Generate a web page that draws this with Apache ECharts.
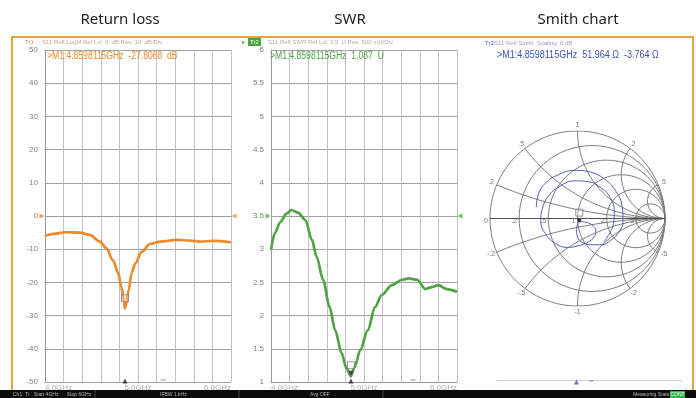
<!DOCTYPE html>
<html>
<head>
<meta charset="utf-8">
<script src="https://cdn.jsdelivr.net/npm/echarts@6/dist/echarts.min.js"></script>
<style>
html,body{margin:0;padding:0;background:#fff}
#chart{width:696px;height:398px}
</style>
</head>
<body>
<div id="chart"></div>
<script>
// S11 sweep, 4–6 GHz: return loss, SWR and Smith chart views

// Return loss trace (GHz, dB)
const rlFreq = [4.00, 4.09, 4.215, 4.38, 4.48, 4.59, 4.66, 4.73, 4.79, 4.82, 4.85, 4.8598115, 4.87, 4.90, 4.93, 4.97, 5.04, 5.13, 5.24, 5.42, 5.56, 5.67, 5.81, 6.00];
const rlDb   = [-6.0, -5.4, -4.9, -5.0, -5.7, -7.7, -9.7, -13.3, -17.3, -21.3, -25.8, -27.8068, -26.8, -22.3, -17.3, -14.3, -10.8, -8.4, -7.7, -7.2, -7.4, -7.7, -7.5, -7.9];

// SWR trace (GHz, ratio)
const swrFreq = [4.00, 4.04, 4.10, 4.17, 4.22, 4.29, 4.37, 4.44, 4.49, 4.56, 4.63, 4.69, 4.76, 4.81, 4.8598115, 4.90, 4.96, 5.04, 5.12, 5.19, 5.30, 5.41, 5.48, 5.57, 5.66, 5.73, 5.80, 5.89, 6.00];
const swrVal  = [2.99, 3.24, 3.41, 3.54, 3.59, 3.55, 3.44, 3.14, 2.89, 2.54, 2.13, 1.78, 1.43, 1.21, 1.087, 1.23, 1.48, 1.78, 2.13, 2.31, 2.46, 2.54, 2.56, 2.54, 2.40, 2.43, 2.46, 2.40, 2.36];

// Reflection coefficient trace for the Smith chart (real, imaginary)
const smithRe = [-0.47, -0.45, -0.37, -0.22, -0.03, 0.15, 0.31, 0.44, 0.51, 0.52, 0.47, 0.38, 0.27, 0.15, 0.05, 0.00, -0.01, 0.00, 0.02, 0.08, 0.16, 0.21, 0.19, 0.12, 0.02, -0.12, -0.26, -0.37, -0.42, -0.40, -0.33, -0.20, -0.04, 0.13, 0.27, 0.38, 0.42, 0.41, 0.36, 0.30];
const smithIm = [0.13, 0.27, 0.40, 0.50, 0.55, 0.53, 0.45, 0.31, 0.14, -0.03, -0.16, -0.25, -0.30, -0.30, -0.27, -0.21, -0.13, -0.07, -0.036, -0.04, -0.07, -0.14, -0.21, -0.27, -0.31, -0.33, -0.28, -0.17, -0.03, 0.12, 0.26, 0.37, 0.43, 0.42, 0.35, 0.23, 0.08, -0.06, -0.18, -0.27];

// Marker 1 readings
const markerFreq = 4.8598115;
const markerRl = -27.8068;
const markerSwr = 1.087;
const markerR = 51.964;
const markerX = -3.764;
const z0 = 50;

// Axis ticks and Smith grid values
const freqMin = 4, freqMax = 6, freqStep = 0.2;
const rlMin = -50, rlMax = 50, rlStep = 10;
const swrMin = 1, swrMax = 6, swrStep = 0.5;
const smithR = [0.2, 0.5, 1, 2, 5];
const smithRLabels = ['.2', '.5', '1', '2', '5'];
const smithX = [0.2, 0.5, 1, 2, 5];
const smithXLabels = ['.2', '.5', '1', '2', '5'];

const orange = '#ee8a2c', green = '#4fa444', blue = '#3d4fb5', gold = '#e1a53c';
const narrow = '"Liberation Sans", Arial, sans-serif';

// marker reflection coefficient from the stated impedance
const zr = markerR / z0, zi = markerX / z0;
const den = (zr + 1) * (zr + 1) + zi * zi;
const mRe = ((zr - 1) * (zr + 1) + zi * zi) / den;
const mIm = (zi * (zr + 1) - (zr - 1) * zi) / den;

function zip(a, b) { return a.map((v, i) => [v, b[i]]); }

function freqLabel(v) {
  const r = Math.round(v);
  return Math.abs(v - r) < 1e-6 ? r.toFixed(1) + 'GHz' : '';
}

function freqAxis(gi) {
  return {
    type: 'value', gridIndex: gi, min: freqMin, max: freqMax, interval: freqStep,
    axisLine: { show: true, lineStyle: { color: '#9a9a9a', width: 1 } },
    axisTick: { show: false },
    splitLine: { show: true, lineStyle: { color: '#c2c2c2', width: 1 } },
    axisLabel: {
      formatter: freqLabel, color: '#b0b0b0', fontSize: 8, margin: 2,
      fontFamily: narrow, alignMinLabel: 'left', alignMaxLabel: 'right'
    }
  };
}

function levelAxis(gi, mn, mx, step) {
  return {
    type: 'value', gridIndex: gi, min: mn, max: mx, interval: step,
    axisLine: { show: true, lineStyle: { color: '#9a9a9a', width: 1 } },
    axisTick: { show: false },
    splitLine: { show: true, lineStyle: { color: '#a0a0a0', width: 1 } },
    axisLabel: { color: '#808080', fontSize: 8, margin: 7, fontFamily: narrow }
  };
}

// Smith chart grid: constant resistance circles and constant reactance arcs
const gridSeries = [];
function gridLine(pts, color, width) {
  gridSeries.push({
    type: 'line', xAxisIndex: 2, yAxisIndex: 2, data: pts, showSymbol: false,
    silent: true, lineStyle: { color: color, width: width }, z: 1
  });
}
function circle(cx, cy, rad) {
  const pts = [];
  for (let i = 0; i <= 180; i++) {
    const a = i / 180 * Math.PI * 2;
    pts.push([cx + rad * Math.cos(a), cy + rad * Math.sin(a)]);
  }
  return pts;
}
function gammaOf(r, x) {
  const d = (r + 1) * (r + 1) + x * x;
  return [((r - 1) * (r + 1) + x * x) / d, 2 * x / d];
}
gridLine(circle(0, 0, 1), '#7a7a7a', 1);
smithR.forEach(r => gridLine(circle(r / (1 + r), 0, 1 / (1 + r)), '#7a7a7a', 1));
smithX.forEach(x => {
  [x, -x].forEach(xx => {
    const pts = [];
    for (let i = 0; i < 120; i++) {
      const r = Math.tan(i / 120 * Math.PI / 2);
      pts.push(gammaOf(r, xx));
    }
    pts.push([1, 0]);
    gridLine(pts, '#7a7a7a', 1);
  });
});
gridLine([[-1, 0], [1, 0]], '#505050', 1);

const smithLabelData = [{ name: '0', value: [-1, 0] }].concat(
  smithR.map((r, i) => ({ name: smithRLabels[i], value: [(r - 1) / (r + 1), 0] }))
);
const smithXLabelData = [];
smithX.forEach((x, i) => {
  [1, -1].forEach(s => {
    const g = gammaOf(0, s * x);
    smithXLabelData.push({ name: (s < 0 ? '-' : '') + smithXLabels[i], value: [g[0] * 1.07, g[1] * 1.07] });
  });
});

function readout(x, y, text, color, sx) {
  return { type: 'text', x: x, y: y, scaleX: sx, style: { text: text, fill: color, font: '10px ' + narrow, textVerticalAlign: 'middle' }, z: 10 };
}

const option = {
  animation: false,
  backgroundColor: '#ffffff',
  grid: [
    { left: 45, top: 50, width: 186, height: 332 },
    { left: 271, top: 50, width: 186, height: 332 },
    { left: 490, top: 131, width: 175, height: 175 },
    { left: 497, top: 370, width: 185, height: 10 }
  ],
  xAxis: [
    freqAxis(0),
    freqAxis(1),
    { type: 'value', gridIndex: 2, min: -1, max: 1, show: false },
    {
      type: 'value', gridIndex: 3, min: freqMin, max: freqMax,
      axisLine: { show: true, lineStyle: { color: '#d2d2d2', width: 1 } },
      axisTick: { show: false }, axisLabel: { show: false }, splitLine: { show: false }
    }
  ],
  yAxis: [
    levelAxis(0, rlMin, rlMax, rlStep),
    levelAxis(1, swrMin, swrMax, swrStep),
    { type: 'value', gridIndex: 2, min: -1, max: 1, show: false },
    { type: 'value', gridIndex: 3, min: 0, max: 1, show: false }
  ],
  series: [
    // return loss
    {
      type: 'line', xAxisIndex: 0, yAxisIndex: 0, data: zip(rlFreq, rlDb),
      showSymbol: false, smooth: 0.3, smoothMonotone: 'x',
      lineStyle: { color: orange, width: 2.7 }, z: 3
    },
    {
      type: 'scatter', xAxisIndex: 0, yAxisIndex: 0, clip: false, silent: true,
      data: [
        { value: [freqMin, 0], symbolRotate: -90, symbolOffset: [-3, 0] },
        { value: [freqMax, 0], symbolRotate: 90, symbolOffset: [3, 0] }
      ],
      symbol: 'triangle', symbolSize: 5, itemStyle: { color: orange }
    },
    {
      type: 'scatter', xAxisIndex: 0, yAxisIndex: 0, clip: false, silent: true,
      data: [[markerFreq, markerRl]], symbol: 'rect', symbolSize: 7, symbolOffset: [0, -10],
      itemStyle: { color: 'rgba(255,255,255,0.35)', borderColor: '#7a7a7a', borderWidth: 1 }, z: 4
    },
    {
      type: 'scatter', xAxisIndex: 0, yAxisIndex: 0, clip: false, silent: true,
      data: [[markerFreq, rlMin]], symbol: 'triangle', symbolSize: 5, symbolOffset: [0, -1],
      itemStyle: { color: '#222' }, z: 4
    },
    {
      type: 'scatter', xAxisIndex: 0, yAxisIndex: 0, clip: false, silent: true,
      data: [[5.27, rlMin]], symbol: 'rect', symbolSize: [5, 1], symbolOffset: [0, -2],
      itemStyle: { color: '#777' }
    },
    // SWR
    {
      type: 'line', xAxisIndex: 1, yAxisIndex: 1, data: zip(swrFreq, swrVal),
      showSymbol: false, smooth: 0.3, smoothMonotone: 'x',
      lineStyle: { color: green, width: 2.7 }, z: 3
    },
    {
      type: 'scatter', xAxisIndex: 1, yAxisIndex: 1, clip: false, silent: true,
      data: [
        { value: [freqMin, 3.5], symbolRotate: -90, symbolOffset: [-3, 0] },
        { value: [freqMax, 3.5], symbolRotate: 90, symbolOffset: [3, 0] }
      ],
      symbol: 'triangle', symbolSize: 5, itemStyle: { color: green }
    },
    {
      type: 'scatter', xAxisIndex: 1, yAxisIndex: 1, clip: false, silent: true,
      data: [[markerFreq, markerSwr]], symbol: 'rect', symbolSize: 7, symbolOffset: [0, -11],
      itemStyle: { color: 'rgba(255,255,255,0.35)', borderColor: '#7a7a7a', borderWidth: 1 }, z: 4
    },
    {
      type: 'scatter', xAxisIndex: 1, yAxisIndex: 1, clip: false, silent: true,
      data: [[markerFreq, markerSwr]], symbol: 'triangle', symbolRotate: 180, symbolSize: 5, symbolOffset: [0, -3],
      itemStyle: { color: '#222' }, z: 4
    },
    {
      type: 'scatter', xAxisIndex: 1, yAxisIndex: 1, clip: false, silent: true,
      data: [[markerFreq, swrMin]], symbol: 'triangle', symbolSize: 5, symbolOffset: [0, -1],
      itemStyle: { color: '#222' }, z: 4
    },
    {
      type: 'scatter', xAxisIndex: 1, yAxisIndex: 1, clip: false, silent: true,
      data: [[5.53, swrMin]], symbol: 'rect', symbolSize: [5, 1], symbolOffset: [0, -2],
      itemStyle: { color: '#777' }
    },
    // Smith chart grid
    ...gridSeries,
    {
      type: 'scatter', xAxisIndex: 2, yAxisIndex: 2, clip: false, silent: true,
      data: smithLabelData, symbolSize: 0,
      label: { show: true, formatter: '{b}', position: 'left', distance: 2, offset: [0, 3], color: '#555', fontSize: 7, fontFamily: narrow }
    },
    {
      type: 'scatter', xAxisIndex: 2, yAxisIndex: 2, clip: false, silent: true,
      data: smithXLabelData, symbolSize: 0,
      label: { show: true, formatter: '{b}', position: 'inside', color: '#555', fontSize: 7, fontFamily: narrow }
    },
    // Smith chart trace
    {
      type: 'line', xAxisIndex: 2, yAxisIndex: 2, data: zip(smithRe, smithIm),
      showSymbol: false, smooth: 0.45,
      lineStyle: { color: '#5a5eb2', width: 1 }, z: 3
    },
    {
      type: 'scatter', xAxisIndex: 2, yAxisIndex: 2, clip: false, silent: true,
      data: [[mRe, mIm]], symbol: 'rect', symbolSize: 7, symbolOffset: [0, -9],
      itemStyle: { color: 'rgba(255,255,255,0.35)', borderColor: '#7a7a7a', borderWidth: 1 }, z: 4
    },
    {
      type: 'scatter', xAxisIndex: 2, yAxisIndex: 2, clip: false, silent: true,
      data: [[mRe, mIm]], symbol: 'circle', symbolSize: 4, symbolOffset: [0, -1.5],
      itemStyle: { color: '#111' }, z: 4
    },
    // sweep position strip under the Smith chart
    {
      type: 'scatter', xAxisIndex: 3, yAxisIndex: 3, clip: false, silent: true,
      data: [[markerFreq, 0]], symbol: 'triangle', symbolSize: 5, symbolOffset: [0, 2],
      itemStyle: { color: '#4b4fc4' }
    },
    {
      type: 'scatter', xAxisIndex: 3, yAxisIndex: 3, clip: false, silent: true,
      data: [[5.02, 0]], symbol: 'rect', symbolSize: [5, 1], symbolOffset: [0, 1],
      itemStyle: { color: '#777' }
    }
  ],
  graphic: [
    // view titles
    { type: 'text', x: 120, y: 20, style: { text: 'Return loss', fill: '#222', font: '15px "Noto Sans", sans-serif', textAlign: 'center', textVerticalAlign: 'middle' } },
    { type: 'text', x: 350, y: 20, style: { text: 'SWR', fill: '#222', font: '15px "Noto Sans", sans-serif', textAlign: 'center', textVerticalAlign: 'middle' } },
    { type: 'text', x: 578, y: 20, style: { text: 'Smith chart', fill: '#222', font: '15px "Noto Sans", sans-serif', textAlign: 'center', textVerticalAlign: 'middle' } },
    // frame
    { type: 'line', shape: { x1: 12, y1: 37, x2: 694, y2: 37 }, style: { stroke: gold, lineWidth: 2 }, z: 10 },
    { type: 'line', shape: { x1: 12, y1: 36, x2: 12, y2: 390 }, style: { stroke: gold, lineWidth: 2 }, z: 10 },
    { type: 'line', shape: { x1: 693, y1: 36, x2: 693, y2: 390 }, style: { stroke: gold, lineWidth: 2 }, z: 10 },
    // trace headers
    { type: 'text', x: 25, y: 42, style: { text: 'Tr1', fill: '#d98a2b', font: '6px ' + narrow, textVerticalAlign: 'middle' }, z: 10 },
    { type: 'text', x: 42, y: 42, style: { text: 'S11 Refl LogM Ref Lvl: 0  dB Res: 10  dB/Div', fill: '#c0a58a', font: '6px ' + narrow, textVerticalAlign: 'middle' }, z: 10 },
    { type: 'text', x: 242, y: 42, style: { text: '\u25B8', fill: green, font: '6px ' + narrow, textVerticalAlign: 'middle' }, z: 10 },
    { type: 'rect', shape: { x: 248, y: 38, width: 13, height: 8 }, style: { fill: '#49a53c' }, z: 10 },
    { type: 'text', x: 254.5, y: 42, style: { text: 'Tr2', fill: '#fff', font: '6px ' + narrow, textAlign: 'center', textVerticalAlign: 'middle' }, z: 11 },
    { type: 'text', x: 268, y: 42, style: { text: 'S11 Refl SWR Ref Lvl: 3.5  U Res: 500 mU/Div', fill: '#a8b4a0', font: '6px ' + narrow, textVerticalAlign: 'middle' }, z: 10 },
    { type: 'text', x: 485, y: 43, style: { text: 'Tr3', fill: '#4a5aa8', font: '6px ' + narrow, textVerticalAlign: 'middle' }, z: 10 },
    { type: 'text', x: 494, y: 43, style: { text: 'S11 Refl Smith  Scaling: 0 dB', fill: '#9ca0b8', font: '6px ' + narrow, textVerticalAlign: 'middle' }, z: 10 },
    // marker readouts
    readout(47, 56, '>M1:4.8598115GHz  -27.8068  dB', orange, 0.86),
    readout(270, 56, '>M1:4.8598115GHz  1.087  U', green, 0.86),
    readout(497, 55, '>M1:4.8598115GHz  51.964 \u03A9  -3.764 \u03A9', blue, 0.9),
    // status bar
    { type: 'rect', shape: { x: 0, y: 390, width: 696, height: 8 }, style: { fill: '#0b0b0b' }, z: 20 },
    { type: 'text', x: 13, y: 394.5, style: { text: 'Ch1  Tr   Start 4GHz      Stop 6GHz', fill: '#b8b8b8', font: '5px ' + narrow, textVerticalAlign: 'middle' }, z: 21 },
    { type: 'line', shape: { x1: 95, y1: 390, x2: 95, y2: 398 }, style: { stroke: '#444', lineWidth: 1 }, z: 21 },
    { type: 'text', x: 160, y: 394.5, style: { text: 'IFBW 1 kHz', fill: '#b8b8b8', font: '5px ' + narrow, textVerticalAlign: 'middle' }, z: 21 },
    { type: 'line', shape: { x1: 239, y1: 390, x2: 239, y2: 398 }, style: { stroke: '#444', lineWidth: 1 }, z: 21 },
    { type: 'text', x: 310, y: 394.5, style: { text: 'Avg OFF', fill: '#b8b8b8', font: '5px ' + narrow, textVerticalAlign: 'middle' }, z: 21 },
    { type: 'line', shape: { x1: 383, y1: 390, x2: 383, y2: 398 }, style: { stroke: '#444', lineWidth: 1 }, z: 21 },
    { type: 'text', x: 633, y: 394.5, style: { text: 'Measuring State', fill: '#b8b8b8', font: '5px ' + narrow, textVerticalAlign: 'middle' }, z: 21 },
    { type: 'rect', shape: { x: 670, y: 391, width: 15, height: 7 }, style: { fill: '#2fb84a' }, z: 21 },
    { type: 'text', x: 677.5, y: 394.5, style: { text: 'CONT', fill: '#e8ffe8', font: '5px ' + narrow, textAlign: 'center', textVerticalAlign: 'middle' }, z: 22 }
  ]
};

const chart = echarts.init(document.getElementById('chart'), null, { renderer: 'canvas' });
chart.setOption(option);
</script>
</body>
</html>
